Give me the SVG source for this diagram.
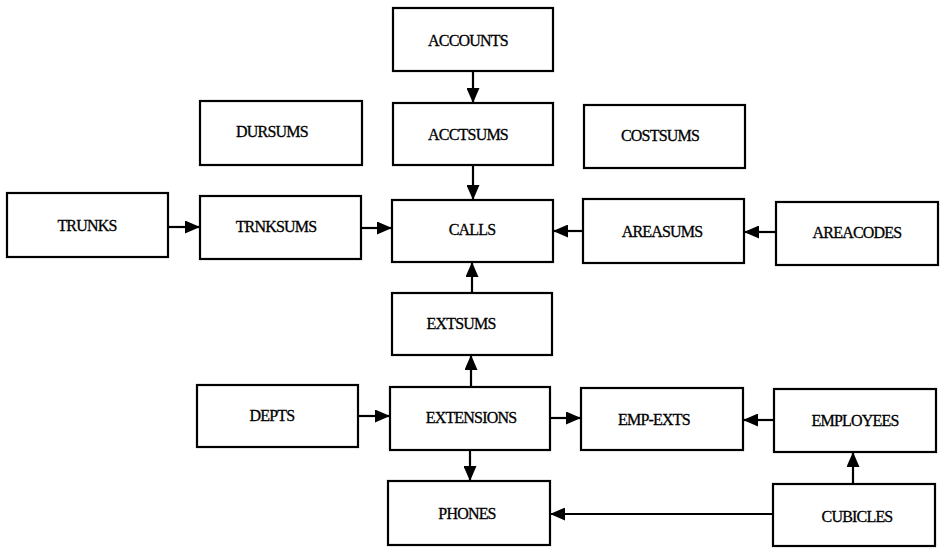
<svg xmlns="http://www.w3.org/2000/svg" width="943" height="548" viewBox="0 0 943 548">
  <style>
    .box { fill: #fff; stroke: #000; stroke-width: 2.2; }
    .lbl { font-family: "Liberation Serif", "Times New Roman", serif; font-size: 16px; fill: #000; stroke: #000; stroke-width: 0.3; text-anchor: middle; dominant-baseline: central; letter-spacing: -0.8px; }
    .edge { fill: none; stroke: #000; stroke-width: 2.2; marker-end: url(#arrow); }
  </style>
  <defs>
    <marker id="arrow" viewBox="0 0 15 13" refX="15" refY="6.5" markerWidth="15" markerHeight="13" markerUnits="userSpaceOnUse" orient="auto">
      <path d="M0,0 L15,6.5 L0,13 Z" fill="#000"/>
    </marker>
  </defs>
  <rect width="943" height="548" fill="#fff"/>

  <g id="connectors">
    <path class="edge" d="M473,71 V103"/>
    <path class="edge" d="M473,165 V200"/>
    <path class="edge" d="M168,227 H200"/>
    <path class="edge" d="M361,228 H392"/>
    <path class="edge" d="M583,231 H553"/>
    <path class="edge" d="M776,232 H744"/>
    <path class="edge" d="M472,293 V262"/>
    <path class="edge" d="M471,387 V355"/>
    <path class="edge" d="M358,416 H390"/>
    <path class="edge" d="M550,418 H581"/>
    <path class="edge" d="M774,420 H743"/>
    <path class="edge" d="M470,450 V481"/>
    <path class="edge" d="M853,484 V452"/>
    <path class="edge" d="M773,514 H550"/>
  </g>

  <g id="accounts"><rect class="box" x="393" y="8" width="160" height="63"/><text class="lbl" x="468" y="40">ACCOUNTS</text></g>
  <g id="dursums"><rect class="box" x="200" y="101" width="162" height="64"/><text class="lbl" x="272" y="131">DURSUMS</text></g>
  <g id="acctsums"><rect class="box" x="393" y="103" width="160" height="62"/><text class="lbl" x="468" y="134">ACCTSUMS</text></g>
  <g id="costsums"><rect class="box" x="584" y="105" width="161" height="63"/><text class="lbl" x="660" y="135">COSTSUMS</text></g>
  <g id="trunks"><rect class="box" x="7" y="193" width="161" height="64"/><text class="lbl" x="87" y="225">TRUNKS</text></g>
  <g id="trnksums"><rect class="box" x="200" y="196" width="161" height="63"/><text class="lbl" x="276" y="226">TRNKSUMS</text></g>
  <g id="calls"><rect class="box" x="392" y="200" width="161" height="62"/><text class="lbl" x="472" y="229">CALLS</text></g>
  <g id="areasums"><rect class="box" x="583" y="199" width="161" height="64"/><text class="lbl" x="662" y="231">AREASUMS</text></g>
  <g id="areacodes"><rect class="box" x="776" y="202" width="162" height="63"/><text class="lbl" x="857" y="232">AREACODES</text></g>
  <g id="extsums"><rect class="box" x="392" y="293" width="160" height="62"/><text class="lbl" x="461" y="323">EXTSUMS</text></g>
  <g id="depts"><rect class="box" x="197" y="385" width="161" height="62"/><text class="lbl" x="272" y="415">DEPTS</text></g>
  <g id="extensions"><rect class="box" x="390" y="387" width="160" height="63"/><text class="lbl" x="471" y="417">EXTENSIONS</text></g>
  <g id="emp-exts"><rect class="box" x="581" y="388" width="162" height="62"/><text class="lbl" x="654" y="419">EMP-EXTS</text></g>
  <g id="employees"><rect class="box" x="774" y="389" width="162" height="63"/><text class="lbl" x="855" y="420">EMPLOYEES</text></g>
  <g id="phones"><rect class="box" x="388" y="481" width="162" height="64"/><text class="lbl" x="467" y="513">PHONES</text></g>
  <g id="cubicles"><rect class="box" x="773" y="484" width="162" height="62"/><text class="lbl" x="857" y="516">CUBICLES</text></g>
</svg>
